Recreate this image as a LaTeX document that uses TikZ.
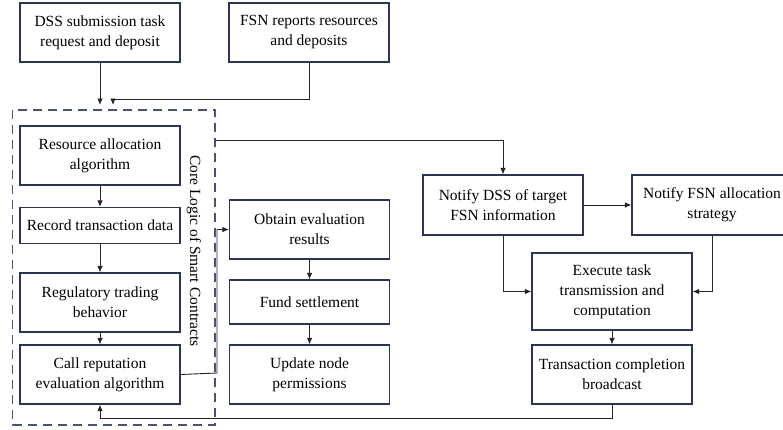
\documentclass[tikz,border=0pt]{standalone}
\usepackage{fontspec}
\setmainfont{Liberation Serif}
\usetikzlibrary{arrows.meta}
\definecolor{boxline}{HTML}{2B3656}
\definecolor{dashline}{HTML}{4A5472}
\tikzset{
	labelfont/.style={font=\rmfamily\fontsize{15.5}{20}\selectfont},
	stepbox/.style={draw=boxline, line width=1.1pt, fill=white, minimum width=160pt, align=center, inner sep=2pt, labelfont},
	link/.style={draw=black!85, line width=0.9pt},
	arr/.style={link, -{Latex[length=6.5pt,width=5.5pt]}}
}

\begin{document}
\begin{tikzpicture}[x=1pt, y=-1pt]
			%%%%% START %%%%%
			\useasboundingbox (0, 0) rectangle (783, 429);
			
			% top requests
			\node[stepbox, minimum height=59pt] (dss) at (100, 32.5) {DSS submission task\\request and deposit};
			\node[stepbox, minimum height=59pt] (fsn) at (309, 32.5) {FSN reports resources\\and deposits};
			
			% smart contract core
			\draw[dashline, line width=1.2pt, dash pattern=on 9pt off 6pt] (12.7, 110) rectangle (215, 425);
			\node[rotate=-90, labelfont] (core) at (194, 251) {Core Logic of Smart Contracts};
			
			\node[stepbox, minimum height=59pt] (res) at (100, 155.5) {Resource allocation\\algorithm};
			\node[stepbox, minimum height=36pt] (rec) at (100, 225.5) {Record transaction data};
			\node[stepbox, minimum height=59pt] (reg) at (100, 302.5) {Regulatory trading\\behavior};
			\node[stepbox, minimum height=59pt] (call) at (100, 374.5) {Call reputation\\evaluation algorithm};
			
			% evaluation branch
			\node[stepbox, minimum height=59pt] (obt) at (309.5, 229.5) {Obtain evaluation\\results};
			\node[stepbox, minimum height=44pt] (fund) at (309.5, 302) {Fund settlement};
			\node[stepbox, minimum height=59pt] (upd) at (309.5, 374.5) {Update node\\permissions};
			
			% execution branch
			\node[stepbox, minimum height=60pt] (ndss) at (503, 205) {Notify DSS of target\\FSN information};
			\node[stepbox, minimum height=60pt] (nfsn) at (712, 205) {Notify FSN allocation\\strategy};
			\node[stepbox, minimum height=77pt] (exe) at (612, 291.5) {Execute task\\transmission and\\computation};
			\node[stepbox, minimum height=59pt] (trans) at (612, 374.5) {Transaction completion\\broadcast};
			
			\coordinate (inA) at (100, 105);
			\coordinate (inB) at (113, 105);
			\coordinate (outA) at (215, 140);
			
			\draw[arr] (dss.south) -- (inA);
			\draw[arr] (fsn.south) |- (113, 99) -- (inB);
			
			\draw[arr] (res) -- (rec);
			\draw[arr] (rec) -- (reg);
			\draw[arr] (reg) -- (call);
			
			\draw[arr] (call.east) -- (217, 373) |- (obt.west);
			\draw[arr] (obt) -- (fund);
			\draw[arr] (fund) -- (upd);
			
			\draw[arr] (outA) -| (ndss.north);
			\draw[arr] (ndss) -- (nfsn);
			\draw[arr] (ndss.south) |- (exe.west);
			\draw[arr] (nfsn.south) |- (exe.east);
			\draw[arr] (exe) -- (trans);
			\draw[arr] (trans.south) -- (612, 418) -| (call.south);
			
			%%%%% END %%%%%
		\end{tikzpicture}
\end{document}
